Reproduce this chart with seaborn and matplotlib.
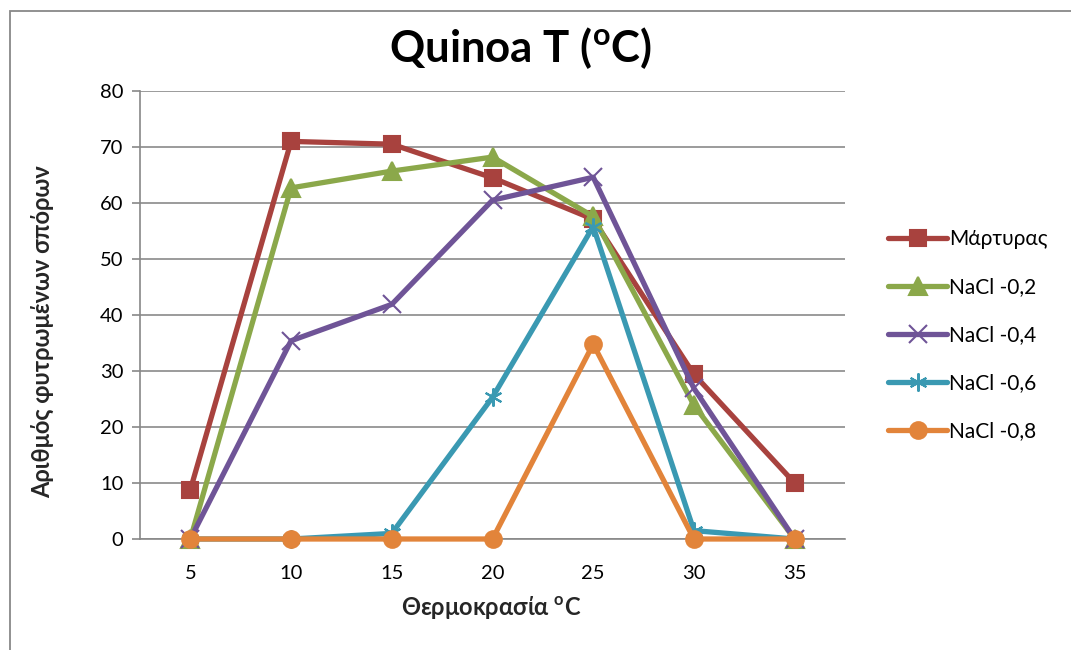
import numpy as np
import pandas as pd
import matplotlib
matplotlib.use('Agg')
import matplotlib.pyplot as plt
import seaborn as sns
from matplotlib.patches import Rectangle

# Data
temps = ['5', '10', '15', '20', '25', '30', '35']
martyras = [8.8, 71.0, 70.5, 64.5, 57.1, 29.4, 10.0]
nacl_02 = [0, 62.7, 65.7, 68.2, 57.6, 23.9, 0]
nacl_04 = [0, 35.4, 41.9, 60.5, 64.6, 26.9, 0]
nacl_06 = [0, 0, 1.0, 25.3, 55.8, 1.5, 0]
nacl_08 = [0, 0, 0, 0, 34.8, 0, 0]

series_names = ['Μάρτυρας', 'NaCl -0,2', 'NaCl -0,4', 'NaCl -0,6', 'NaCl -0,8']
series_values = [martyras, nacl_02, nacl_04, nacl_06, nacl_08]
colors = ['#A8423E', '#8BA84A', '#6F5497', '#3A99B2', '#E2843A']
markers = ['s', '^', 'x', (6, 2, 0), 'o']

sns.set_style('white')
plt.rcParams['font.family'] = ['Lato', 'Noto Sans', 'DejaVu Sans']
plt.rcParams['mathtext.fontset'] = 'custom'
plt.rcParams['mathtext.rm'] = 'Lato'
plt.rcParams['mathtext.bf'] = 'Lato:bold'
plt.rcParams['text.color'] = 'black'
plt.rcParams['xtick.color'] = 'black'
plt.rcParams['ytick.color'] = 'black'

df = pd.DataFrame({
    'temp': np.tile(temps, len(series_names)),
    'value': np.concatenate(series_values),
    'series': np.repeat(series_names, len(temps)),
})

fig = plt.figure(figsize=(10.71, 6.5), dpi=100)
ax = fig.add_axes([140 / 1071, 111 / 650, 705 / 1071, 448 / 650])

# chart frame
fig.patches.append(Rectangle((10 / 1071, -0.1), 1.2, (650 - 11) / 650 + 0.1,
                             transform=fig.transFigure, fill=False,
                             edgecolor='#888888', linewidth=1.3))

for i, (name, vals, c, m) in enumerate(zip(series_names, series_values, colors, markers)):
    sub = df[df['series'] == name]
    ms = 12 if m in ('s', 'o') else 13
    sns.lineplot(data=sub, x='temp', y='value', ax=ax, color=c, linewidth=3.8,
                 marker=m, markersize=ms, markeredgecolor=c,
                 markeredgewidth=1.5, label=name, sort=False,
                 clip_on=False, zorder=3 + i)

ax.set_xlim(-0.5, 6.5)
ax.set_ylim(0, 80)
ax.set_yticks(range(0, 81, 10))
ax.set_xticks(range(len(temps)))
ax.set_xticklabels(temps)
ax.set_xticks(np.arange(-0.5, 7, 1), minor=True)
ax.tick_params(axis='x', which='major', length=0, labelsize=14.5, pad=19)
ax.tick_params(axis='x', which='minor', length=6, color='#888888', width=1.2)
ax.tick_params(axis='y', length=6, color='#888888', width=1.2, labelsize=14.5, pad=6,
               left=True)
ax.grid(True, axis='y', color='#8a8a8a', linewidth=1.2)
ax.set_axisbelow(True)
for s in ['top', 'right']:
    ax.spines[s].set_visible(False)
for s in ['left', 'bottom']:
    ax.spines[s].set_color('#888888')
    ax.spines[s].set_linewidth(1.2)

ax.set_xlabel('Θερμοκρασία $^{\\mathbf{o}}$C', fontsize=17, fontweight='bold', va='center')
ax.set_ylabel('Αριθμός φυτρωμένων σπόρων', fontsize=17, fontweight='bold', va='center')
ax.xaxis.set_label_coords(0.4986, -0.152)
ax.yaxis.set_label_coords(-0.1376, 0.464)
fig.text(521 / 1071, 1 - 48 / 650, 'Quinoa T ($^{\\mathbf{o}}$C)', fontsize=31.5,
         fontweight='bold', ha='center', va='center')

leg = ax.legend(loc='center left', bbox_to_anchor=(1.035, 0.455), frameon=False,
                fontsize=15, handlelength=2.8, handletextpad=0.1,
                labelspacing=1.35)

fig.savefig('out.png', dpi=100)
